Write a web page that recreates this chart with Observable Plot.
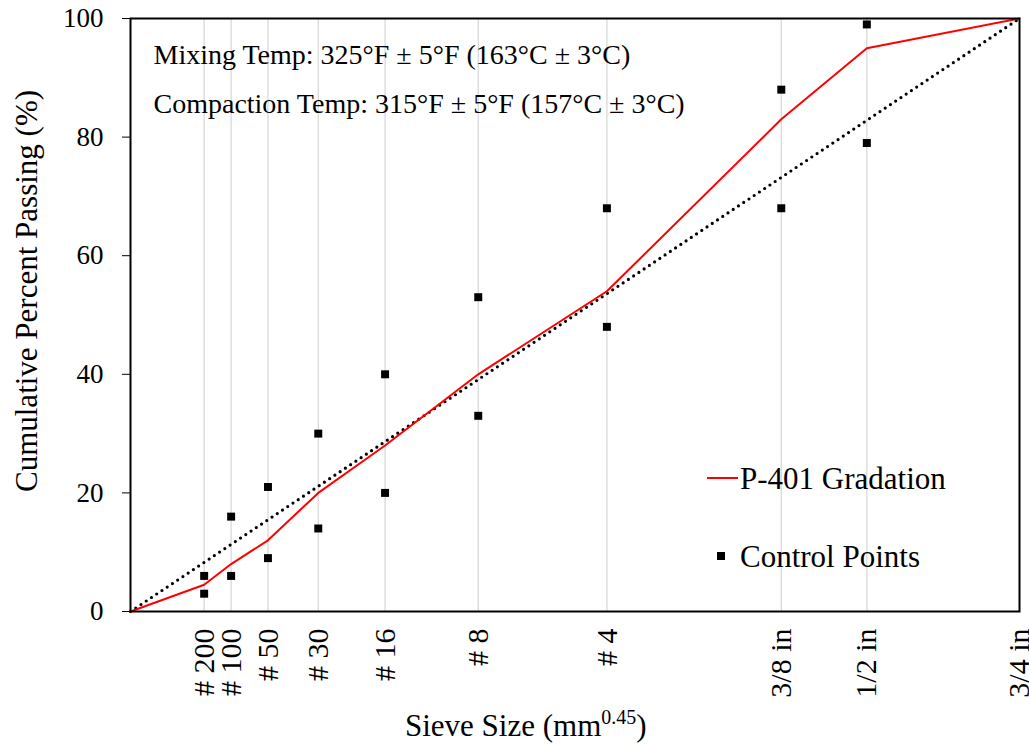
<!DOCTYPE html>
<html>
<head>
<meta charset="utf-8">
<script src="https://cdn.jsdelivr.net/npm/d3@7"></script>
<script src="https://cdn.jsdelivr.net/npm/@observablehq/plot@0.6"></script>
<style>
  body { margin: 0; background: #fff; }
  #wrap { position: relative; width: 1029px; height: 746px; font-family: "Liberation Serif", "Times New Roman", serif; }
  .ov { position: absolute; font-size: 31px; color: #000; white-space: nowrap; line-height: 1; }
  .ov sup { font-size: 20px; vertical-align: 12px; line-height: 0; }
  .legline { position: absolute; width: 31px; height: 0; border-top: 2px solid #ff0000; }
  .legsq { position: absolute; width: 8px; height: 8px; background: #000; }
</style>
</head>
<body>
<div id="wrap"></div>
<script>
// Sieve sizes (mm) and their labels
const sieveMM = [0.075, 0.15, 0.3, 0.6, 1.18, 2.36, 4.75, 9.5, 12.5, 19];
const sieveLabels = ["# 200", "# 100", "# 50", "# 30", "# 16", "# 8", "# 4", "3/8 in", "1/2 in", "3/4 in"];

// P-401 gradation (cumulative % passing), starting from origin
const gradSizes = [0, 0.075, 0.15, 0.3, 0.6, 1.18, 2.36, 4.75, 9.5, 12.5, 19];
const gradPassing = [0, 4.5, 8, 12, 20, 28, 40, 54, 83, 95, 100];

// Control points
const ctrlSizes = [0.075, 0.15, 0.3, 0.6, 1.18, 2.36, 4.75, 9.5, 12.5];
const ctrlLower = [3, 6, 9, 14, 20, 33, 48, 68, 79];
const ctrlUpper = [6, 16, 21, 30, 40, 53, 68, 88, 99];

// Maximum density line
const maxDenSizes = [0, 19];
const maxDenPassing = [0, 100];

const yTicks = [0, 20, 40, 60, 80, 100];
const note1 = "Mixing Temp: 325°F ± 5°F (163°C ± 3°C)";
const note2 = "Compaction Temp: 315°F ± 5°F (157°C ± 3°C)";
const yTitle = "Cumulative Percent Passing (%)";

const grad = gradSizes.map((s, i) => ({s, p: gradPassing[i]}));
const maxDen = maxDenSizes.map((s, i) => ({s, p: maxDenPassing[i]}));
const ctrl = ctrlSizes.flatMap((s, i) => [{s, p: ctrlLower[i]}, {s, p: ctrlUpper[i]}]);
const labelOf = new Map(sieveMM.map((s, i) => [s, sieveLabels[i]]));

const font = "Liberation Serif";

const chart = Plot.plot({
  width: 1029,
  height: 746,
  marginLeft: 130,
  marginRight: 10,
  marginTop: 18,
  marginBottom: 135,
  style: {fontFamily: font, background: "#fff", color: "#000"},
  x: {type: "pow", exponent: 0.45, domain: [0, 19]},
  y: {domain: [0, 100]},
  marks: [
    Plot.gridX(sieveMM, {stroke: "#d9d9d9", strokeOpacity: 1, strokeWidth: 1.3}),
    Plot.axisY({ticks: yTicks, tickSize: 8, tickPadding: 19, fontSize: 27, label: null, tickFormat: d => String(d)}),
    Plot.axisX({ticks: sieveMM, tickSize: 0, tickPadding: 17, tickRotate: -90, fontSize: 30, label: null, tickFormat: d => labelOf.get(d)}),
    Plot.line(maxDen, {x: "s", y: "p", stroke: "#000", strokeWidth: 3.2, strokeDasharray: "0 6.3", strokeLinecap: "round"}),
    Plot.line(grad, {x: "s", y: "p", stroke: "#ff0000", strokeWidth: 2}),
    Plot.dot(ctrl, {x: "s", y: "p", symbol: "square", r: 4.5, fill: "#000", stroke: null}),
    Plot.frame({stroke: "#000", strokeWidth: 2}),
    Plot.text([note1], {frameAnchor: "top-left", text: d => d, dx: 23, dy: 37, textAnchor: "start", lineAnchor: "middle", fontSize: 28, fill: "#000"}),
    Plot.text([note2], {frameAnchor: "top-left", text: d => d, dx: 23, dy: 86, textAnchor: "start", lineAnchor: "middle", fontSize: 28, fill: "#000"}),
    Plot.text([yTitle], {frameAnchor: "left", text: d => d, dx: -103, dy: -24, rotate: -90, textAnchor: "middle", lineAnchor: "middle", fontSize: 31, fill: "#000"})
  ]
});

const wrap = document.getElementById("wrap");
wrap.appendChild(chart);

function addDiv(cls, html, left, top) {
  const d = document.createElement("div");
  d.className = cls;
  if (html) d.innerHTML = html;
  d.style.left = left + "px";
  d.style.top = top + "px";
  wrap.appendChild(d);
  return d;
}
// x-axis title
addDiv("ov", "Sieve Size (mm<sup>0.45</sup>)", 405, 710);
// legend
addDiv("legline", "", 707, 477);
addDiv("ov", "P-401 Gradation", 740, 463);
addDiv("legsq", "", 717, 552);
addDiv("ov", "Control Points", 740, 541);
</script>
</body>
</html>
